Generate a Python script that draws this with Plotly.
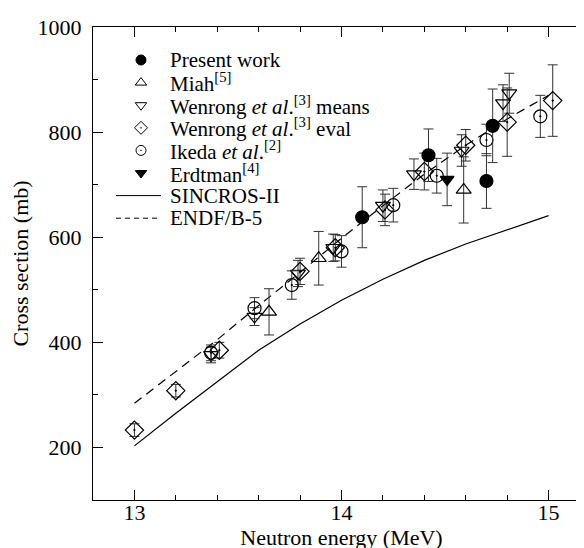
import plotly.graph_objects as go

# ---------------- data ----------------
# Present work
pw_x = [14.10, 14.42, 14.70, 14.73]
pw_y = [638, 756, 707, 812]
pw_e = [58, 50, 52, 70]
# Miah
mi_x = [13.65, 13.89, 14.59]
mi_y = [458, 560, 690]
mi_e = [44, 51, 63]
# Wenrong means
wm_x = [13.37, 13.58, 13.79, 13.96, 14.20, 14.35, 14.58, 14.78, 14.81]
wm_y = [376, 449, 531, 580, 660, 720, 765, 855, 874]
wm_e = [15, 17, 25, 26, 30, 29, 30, 35, 38]
# Wenrong eval
we_x = [13.00, 13.20, 13.41, 13.80, 13.97, 14.21, 14.40, 14.60, 14.80, 15.02]
we_y = [233, 308, 385, 535, 580, 652, 725, 775, 819, 860]
we_e = [12, 12, 15, 25, 25, 30, 35, 30, 65, 68]
# Ikeda
ik_x = [13.37, 13.58, 13.76, 14.00, 14.25, 14.46, 14.70, 14.96]
ik_y = [380, 465, 509, 573, 661, 717, 785, 830]
ik_e = [15, 20, 27, 30, 32, 33, 30, 40]
# Erdtman
er_x = [14.51]
er_y = [710]
er_e = [50]
# SINCROS-II calculation
sc_x = [13.0, 13.2, 13.4, 13.6, 13.8, 14.0, 14.2, 14.4, 14.6, 14.8, 15.0]
sc_y = [203, 265, 325, 385, 435, 480, 520, 556, 587, 614, 641]
# ENDF/B-5 evaluation
en_x = [13.0, 13.2, 13.4, 13.6, 13.8, 14.0, 14.2, 14.4, 14.6, 14.8, 15.0]
en_y = [284, 345, 405, 470, 533, 598, 660, 720, 775, 825, 870]

# legend entries
legend_labels = [
    "Present work",
    "Miah<sup>[5]</sup>",
    "Wenrong <i>et al</i>.<sup>[3]</sup> means",
    "Wenrong <i>et al</i>.<sup>[3]</sup> eval",
    "Ikeda <i>et al</i>.<sup>[2]</sup>",
    "Erdtman<sup>[4]</sup>",
    "SINCROS-II",
    "ENDF/B-5",
]
legend_kinds = ["pw", "mi", "wm", "we", "ik", "er", "solid", "dash"]

# ---------------- style ----------------
FONT = "Liberation Serif"
FS = 22
LFS = 21
W, H = 584, 548
ML, MR, MT, MB = 85, 2, 19, 56
PW, PH = W - ML - MR, H - MT - MB

SYM = {
    "pw": "circle",
    "mi": "triangle-up-open",
    "wm": "triangle-down-open",
    "we": "diamond-open-dot",
    "ik": "circle-open-dot",
    "er": "triangle-down",
}

fig = go.Figure()

def err(e):
    return dict(type="data", array=e, visible=True, color="#333", thickness=1, width=5)

fig.add_trace(go.Scatter(x=sc_x, y=sc_y, mode="lines", line=dict(color="black", width=1.2),
                         showlegend=False, name="SINCROS-II"))
fig.add_trace(go.Scatter(x=en_x, y=en_y, mode="lines", line=dict(color="black", width=1.2, dash="9px,6px"),
                         showlegend=False, name="ENDF/B-5"))

series = [
    ("mi", mi_x, mi_y, mi_e, 13),
    ("wm", wm_x, wm_y, wm_e, 13),
    ("we", we_x, we_y, we_e, 14),
    ("ik", ik_x, ik_y, ik_e, 13),
    ("er", er_x, er_y, er_e, 12),
    ("pw", pw_x, pw_y, pw_e, 13),
]
for key, xs, ys, es, sz in series:
    fig.add_trace(go.Scatter(x=xs, y=ys, error_y=err(es), mode="markers", showlegend=False,
                             marker=dict(symbol=SYM[key], size=sz, color="black",
                                         line=dict(width=1.2, color="black"))))

# ---------------- manual legend (tight rows as in the original) ----------------
row0, row_gap = 52, 22.6
sym_x, line_x0, line_x1, text_x = 133, 108, 153, 160
px2x = lambda px: (px - ML) / PW
py2y = lambda py: (MT + PH - py) / PH

for i, (lab, kind) in enumerate(zip(legend_labels, legend_kinds)):
    py = row0 + i * row_gap
    if kind in SYM:
        fig.add_trace(go.Scatter(x=[px2x(sym_x)], y=[py2y(py)], xaxis="x2", yaxis="y2",
                                 mode="markers", showlegend=False, hoverinfo="skip",
                                 marker=dict(symbol=SYM[kind], size=10, color="black",
                                             line=dict(width=1, color="black"))))
    else:
        fig.add_shape(type="line", xref="paper", yref="paper",
                      x0=px2x(line_x0), x1=px2x(line_x1), y0=py2y(py), y1=py2y(py),
                      line=dict(color="black", width=1, dash="solid" if kind == "solid" else "5px,4px"))
    fig.add_annotation(x=px2x(text_x), y=py2y(py), xref="paper", yref="paper",
                       text=lab, showarrow=False, xanchor="left", yanchor="middle",
                       font=dict(family=FONT, size=LFS, color="black"))

axis_common = dict(showline=True, linecolor="black", linewidth=1, mirror="ticks",
                   ticks="inside", ticklen=10, tickwidth=1, tickcolor="black",
                   showgrid=False, zeroline=False,
                   tickfont=dict(family=FONT, size=FS, color="black"))

xaxis = dict(range=[12.8, 15.2], dtick=1, tick0=13, ticklabelstandoff=-7,
             minor=dict(dtick=0.2, ticklen=5, ticks="inside", tickcolor="black"),
             title=dict(text="Neutron energy (MeV)", font=dict(family=FONT, size=FS, color="black"),
                        standoff=0),
             **axis_common)
yaxis = dict(range=[100, 1000], dtick=200, tick0=0, ticklabelstandoff=6,
             minor=dict(dtick=100, ticklen=5, ticks="inside", tickcolor="black"),
             title=dict(text="Cross section (mb)", font=dict(family=FONT, size=FS, color="black"),
                        standoff=10),
             **axis_common)

fig.update_layout(
    width=W, height=H,
    margin=dict(l=ML, r=MR, t=MT, b=MB, autoexpand=False),
    paper_bgcolor="white", plot_bgcolor="white",
    showlegend=False,
    xaxis=xaxis, yaxis=yaxis,
    xaxis2=dict(overlaying="x", range=[0, 1], visible=False, fixedrange=True),
    yaxis2=dict(overlaying="y", range=[0, 1], visible=False, fixedrange=True),
)

fig.write_html("out.html")
